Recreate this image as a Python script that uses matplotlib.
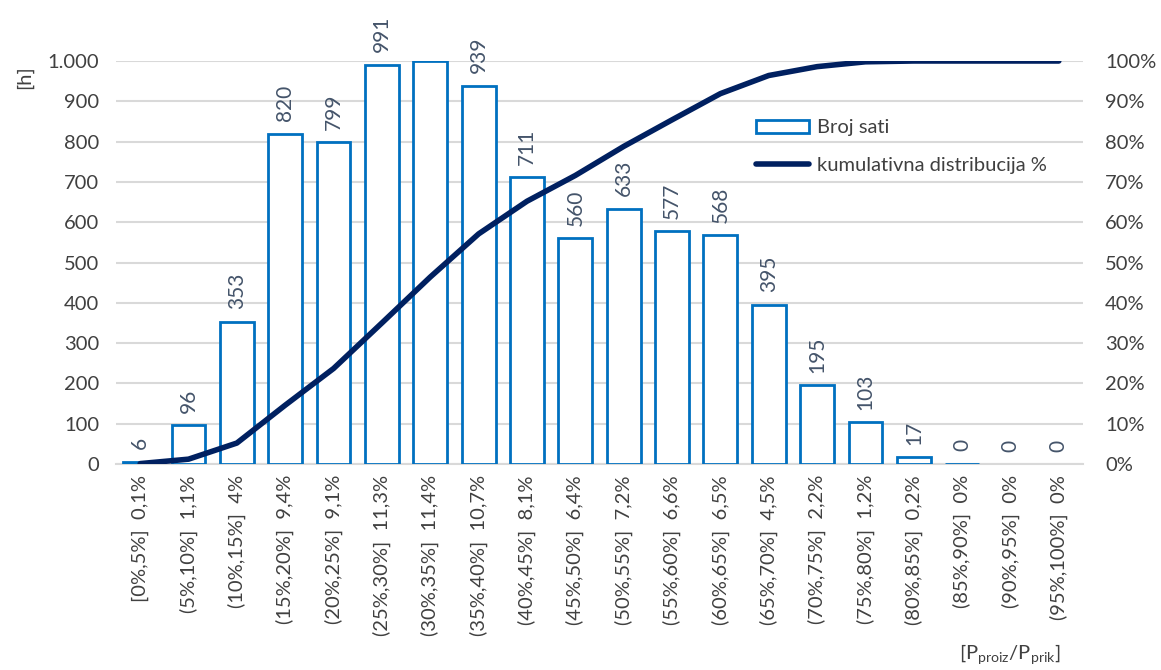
import numpy as np
import matplotlib.pyplot as plt

plt.rcParams['font.family'] = ['Lato', 'DejaVu Sans']

bins = ["[0%,5%]", "(5%,10%]", "(10%,15%]", "(15%,20%]", "(20%,25%]",
        "(25%,30%]", "(30%,35%]", "(35%,40%]", "(40%,45%]", "(45%,50%]",
        "(50%,55%]", "(55%,60%]", "(60%,65%]", "(65%,70%]", "(70%,75%]",
        "(75%,80%]", "(80%,85%]", "(85%,90%]", "(90%,95%]", "(95%,100%]"]
share = ["0,1%", "1,1%", "4%", "9,4%", "9,1%", "11,3%", "11,4%", "10,7%",
         "8,1%", "6,4%", "7,2%", "6,6%", "6,5%", "4,5%", "2,2%", "1,2%",
         "0,2%", "0%", "0%", "0%"]
hours = [6, 96, 353, 820, 799, 991, 1000, 939, 711, 560, 633, 577, 568,
         395, 195, 103, 17, 0.4, 0, 0]
# the 30-35% bar hits the axis maximum, its label is not shown
hidden_label = [6]
cumulative = [0.1, 1.2, 5.2, 14.6, 23.7, 35.0, 46.4, 57.1, 65.2, 71.6,
              78.8, 85.4, 91.9, 96.4, 98.6, 99.8, 100, 100, 100, 100]

bar_blue = "#0070C0"
navy = "#002060"
grid_col = "#D9D9D9"
txt_col = "#404040"
lbl_col = "#44546A"

fig = plt.figure(figsize=(11.61, 6.70), dpi=100)
ax = fig.add_axes([116 / 1161, 1 - 464 / 670, (1083 - 116) / 1161, (464 - 61) / 670])
ax2 = ax.twinx()

x = np.arange(len(bins))
edges = [bar_blue if v > 0 else "none" for v in hours]
ax.bar(x, hours, width=0.7, facecolor="white", edgecolor=edges,
       linewidth=2, label="Broj sati", zorder=3)
for i, v in enumerate(hours):
    if i in hidden_label:
        continue
    ax.annotate(f"{v:.0f}", (i, v), xytext=(0, 9), textcoords="offset points",
                rotation=90, ha="center", va="bottom", fontsize=15,
                color=lbl_col, annotation_clip=False)

ax.set_xlim(-0.5, len(bins) - 0.5)
ax.set_ylim(0, 1000)
ax.set_yticks(np.arange(0, 1001, 100))
ax.set_yticklabels([f"{t:,}".replace(",", ".") for t in range(0, 1001, 100)])
ax.yaxis.grid(True, color=grid_col, linewidth=1.5, zorder=0)
ax.set_axisbelow(True)
ax.set_xticks(x)
ax.set_xticklabels([f"{b}  {s}" for b, s in zip(bins, share)], rotation=90)
ax.tick_params(axis="both", length=0, labelsize=14.5, colors=txt_col, pad=8)
ax.tick_params(axis="y", pad=12)
for sp in ["top", "left", "right"]:
    ax.spines[sp].set_visible(False)
ax.spines["bottom"].set_color(grid_col)
ax.spines["bottom"].set_linewidth(1.5)

ax2.plot(x, cumulative, color=navy, linewidth=4, solid_capstyle="round",
         solid_joinstyle="round", label="kumulativna distribucija %", zorder=4)
ax2.set_ylim(0, 100)
ax2.set_yticks(np.arange(0, 101, 10))
ax2.set_yticklabels([f"{t}%" for t in range(0, 101, 10)])
ax2.tick_params(axis="y", length=0, labelsize=14.5, colors=txt_col, pad=16)
for sp in ax2.spines.values():
    sp.set_visible(False)

ax.text(-0.095, 0.99, "[h]", transform=ax.transAxes, rotation=90,
        ha="center", va="top", fontsize=14.5, color=txt_col)
fig.text(1010 / 1161, 1 - 655 / 670,
         r"[P$_{\mathregular{proiz}}$/P$_{\mathregular{prik}}$]",
         ha="center", va="center", fontsize=14.5, color=txt_col)

h1, l1 = ax.get_legend_handles_labels()
h2, l2 = ax2.get_legend_handles_labels()
ax2.legend(h1 + h2, l1 + l2, loc="upper left", bbox_to_anchor=(0.654, 0.875),
           frameon=False, fontsize=14.5, labelcolor=txt_col,
           handlelength=2.6, handleheight=0.6, handletextpad=0.4,
           borderaxespad=0, labelspacing=1.0)

fig.savefig("out.png", dpi=100)
